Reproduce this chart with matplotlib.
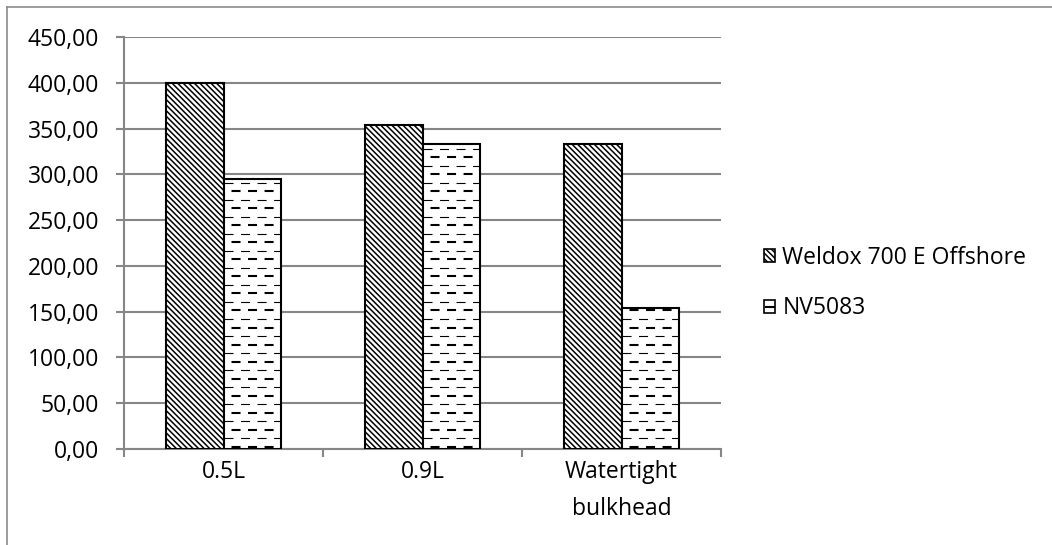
import numpy as np
import matplotlib
matplotlib.use("Agg")
from matplotlib import pyplot as plt
from matplotlib.patches import Patch
from matplotlib.lines import Line2D
from matplotlib.legend_handler import HandlerTuple

categories = ["0.5L", "0.9L", "Watertight\nbulkhead"]
series_names = ["Weldox 700 E Offshore", "NV5083"]
weldox = [400.0, 354.0, 333.0]
nv5083 = [295.0, 333.0, 154.0]
y_ticks = [0, 50, 100, 150, 200, 250, 300, 350, 400, 450]

GRAY = "#868686"
WELDOX_HATCH = "\\" * 6

plt.rcParams["font.family"] = ["Open Sans", "DejaVu Sans"]
plt.rcParams["hatch.linewidth"] = 1.1
plt.rcParams["lines.scale_dashes"] = False

fig = plt.figure(figsize=(10.52, 5.45), dpi=100)
ax = fig.add_axes([0.1179, 0.1761, 0.5675, 0.756])

x = np.arange(len(categories))
width = 0.289

weldox_bars = ax.bar(x - width / 2, weldox, width, facecolor="white",
                     edgecolor="black", linewidth=1.5, hatch=WELDOX_HATCH, zorder=3)
nv_bars = ax.bar(x + width / 2, nv5083, width, facecolor="white",
                 edgecolor="black", linewidth=1.5, zorder=3)

# dashed fill for the NV5083 bars: alternating thick/thin rows, clipped to each bar
row_step = 9.3
on_pt, off_pt = 6.5, 5.4
for bar in nv_bars:
    x0 = bar.get_x()
    x1 = x0 + bar.get_width()
    h = bar.get_height()
    for i, yy in enumerate(np.arange(2.5, h, row_step)):
        thick = i % 2 == 0
        ln = Line2D([x0, x1], [yy, yy], color="black",
                    linewidth=1.5 if thick else 0.8,
                    linestyle=(on_pt if thick else 0.0, (on_pt, off_pt)),
                    zorder=3.5)
        ax.add_line(ln)
        ln.set_clip_path(bar)

ax.set_xlim(-0.5, 2.5)
ax.set_ylim(0, 450)
ax.set_yticks(y_ticks)
ax.set_yticklabels([f"{v:.2f}".replace(".", ",") for v in y_ticks])
ax.set_xticks(x)
ax.set_xticklabels(categories, linespacing=1.7)
ax.set_xticks([-0.5, 0.5, 1.5, 2.5], minor=True)

ax.yaxis.grid(True, color=GRAY, linewidth=1.5, zorder=0)
ax.set_axisbelow(True)
for side in ["top", "right"]:
    ax.spines[side].set_visible(False)
for side in ["left", "bottom"]:
    ax.spines[side].set_color(GRAY)
    ax.spines[side].set_linewidth(1.5)

ax.tick_params(axis="y", length=6, width=1.5, color=GRAY, pad=12,
               labelsize=16.5, labelcolor="black")
ax.tick_params(axis="x", which="major", length=0, pad=8,
               labelsize=16.5, labelcolor="black")
ax.tick_params(axis="x", which="minor", length=6, width=1.5, color=GRAY)

box = Patch(facecolor="white", edgecolor="black", linewidth=1.2)
handles = [
    Patch(facecolor="white", edgecolor="black", hatch=WELDOX_HATCH, linewidth=1.2),
    (box, Line2D([], [], marker="_", markersize=7, markeredgewidth=1.5,
                 color="black", linestyle="none")),
]
fig.legend(handles, series_names, loc="center left",
           bbox_to_anchor=(764 / 1052, 1 - 283 / 545), frameon=False,
           fontsize=16.5, handlelength=0.5, handleheight=0.5,
           handletextpad=0.3, labelspacing=1.15, borderpad=0, borderaxespad=0,
           handler_map={tuple: HandlerTuple(ndivide=1, pad=0)})

# chart area border
fig.add_artist(Line2D([7 / 1052, 1.0], [1 - 7 / 545, 1 - 7 / 545],
                      transform=fig.transFigure, color="#8c8c8c", linewidth=1.2))
fig.add_artist(Line2D([7 / 1052, 7 / 1052], [0.0, 1 - 7 / 545],
                      transform=fig.transFigure, color="#8c8c8c", linewidth=1.2))

fig.savefig("out.png", dpi=100)
